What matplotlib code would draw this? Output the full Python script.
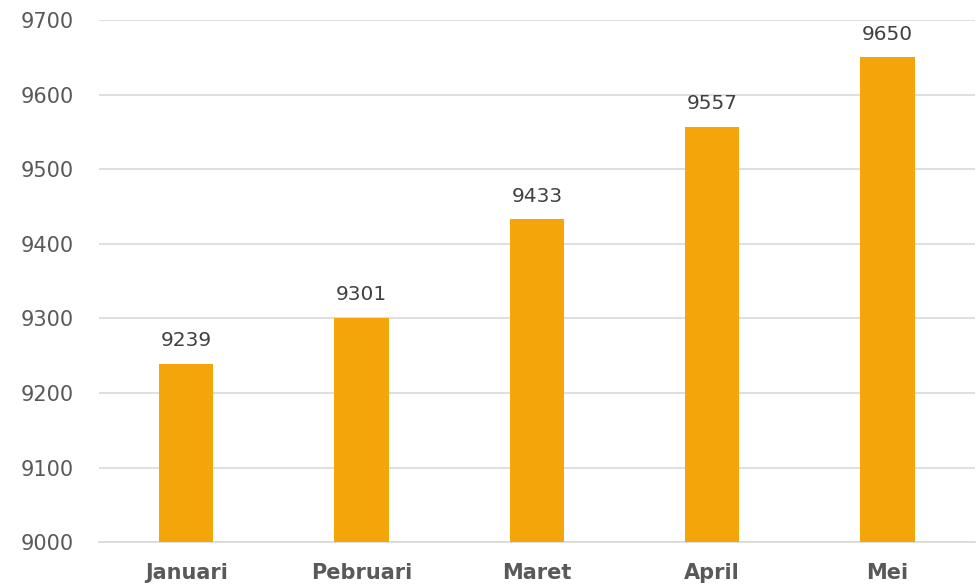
import numpy as np
import matplotlib.pyplot as plt

bulan = ['Januari', 'Pebruari', 'Maret', 'April', 'Mei']
nilai = [9239, 9301, 9433, 9557, 9650]

plt.rcParams['font.family'] = ['DejaVu Sans']

fig = plt.figure(figsize=(9.77, 5.88), dpi=100)
ax = fig.add_axes([0.101, 0.078, 0.897, 0.888])

x = np.arange(len(bulan))
bars = ax.bar(x, nilai, width=0.31, color='#F4A509', zorder=3)

for b, v in zip(bars, nilai):
    ax.text(b.get_x() + b.get_width() / 2, v + 18, str(v), ha='center', va='bottom',
            fontsize=14.5, color='#404040')

ax.set_xlim(-0.5, len(bulan) - 0.5)
ax.set_ylim(9000, 9700)
ax.set_yticks(np.arange(9000, 9701, 100))
ax.set_xticks(x)
ax.set_xticklabels(bulan, fontsize=15, fontweight='bold', color='#595959')
ax.tick_params(axis='y', labelsize=15, labelcolor='#595959', length=0, pad=18)
ax.tick_params(axis='x', length=0, pad=15)
ax.grid(axis='y', color='#D9D9D9', linewidth=1.2, zorder=0)
for s in ['top', 'right', 'left']:
    ax.spines[s].set_visible(False)
ax.spines['bottom'].set_color('#D9D9D9')
ax.spines['bottom'].set_linewidth(1.2)

fig.savefig('out.png', dpi=100)
